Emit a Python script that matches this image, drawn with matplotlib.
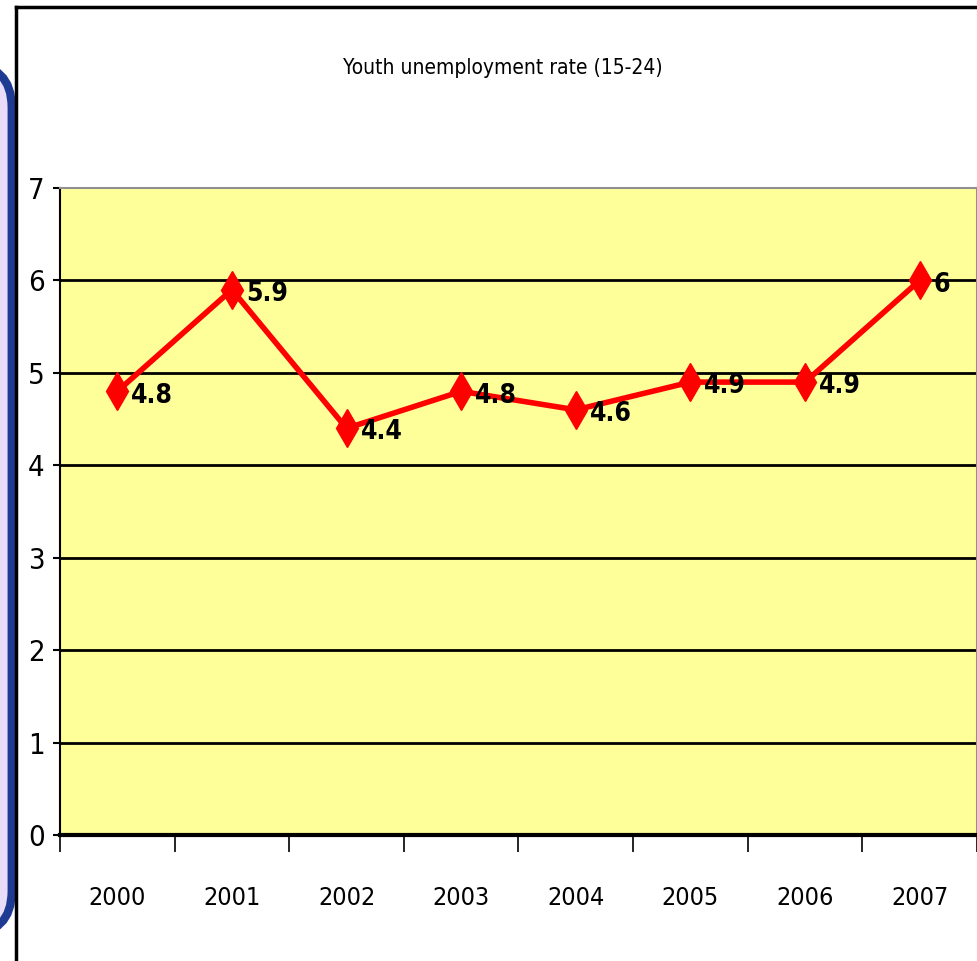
import matplotlib.pyplot as plt
from matplotlib.patches import FancyBboxPatch
from matplotlib.lines import Line2D

plt.rcParams['font.family'] = ['DejaVu Sans']
plt.rcParams['font.stretch'] = 'condensed'

years = ["2000", "2001", "2002", "2003", "2004", "2005", "2006", "2007"]
rates = [4.8, 5.9, 4.4, 4.8, 4.6, 4.9, 4.9, 6.0]
value_labels = ["4.8", "5.9", "4.4", "4.8", "4.6", "4.9", "4.9", "6"]
title = "Youth unemployment rate (15-24)"

fig = plt.figure(figsize=(9.78, 9.61), dpi=100)

# slide decoration: blue rounded box at left, black frame around chart
box = FancyBboxPatch((-0.05, 0.028), 0.062, 0.905, boxstyle="round,pad=0,rounding_size=0.045",
                     transform=fig.transFigure, facecolor="#e8dcf8", edgecolor="#1f3a93",
                     linewidth=6, zorder=0)
fig.patches.append(box)
fig.lines.append(Line2D([16/978, 16/978], [0, 1 - 7/961], transform=fig.transFigure,
                        color="black", lw=2.5))
fig.lines.append(Line2D([16/978, 1], [1 - 7/961, 1 - 7/961], transform=fig.transFigure,
                        color="black", lw=2.5))

ax = fig.add_axes([60/978, 1 - 835/961, 917/978, 647/961])
ax.set_facecolor("#ffff99")

x = list(range(len(years)))
ax.plot(x, rates, color="red", lw=4, marker="d", markersize=19,
        markeredgecolor="red", markerfacecolor="red", zorder=3, clip_on=False)
for xi, yi, lab in zip(x, rates, value_labels):
    ax.annotate(lab, (xi, yi), xytext=(10, -3), textcoords="offset points",
                ha="left", va="center", fontsize=19, fontweight="bold", zorder=4)

ax.set_xlim(-0.5, 7.5)
ax.set_ylim(0, 7)
ax.set_yticks(range(8))
ax.set_yticklabels([str(v) for v in range(8)], fontsize=21)
ax.set_xticks([i - 0.5 for i in range(9)])
ax.set_xticklabels([])
ax.set_xticks(x, minor=True)
ax.set_xticklabels(years, minor=True, fontsize=18)
ax.tick_params(axis="x", which="major", direction="out", length=12, width=1.2)
ax.tick_params(axis="x", which="minor", length=0, pad=37)
ax.tick_params(axis="y", direction="out", length=5, width=1.5, pad=6)

for v in range(1, 7):
    ax.axhline(v, color="black", lw=2, zorder=1)

ax.spines["top"].set_color("#909090")
ax.spines["right"].set_color("#909090")
ax.spines["top"].set_linewidth(1.5)
ax.spines["right"].set_linewidth(1.5)
ax.spines["bottom"].set_linewidth(3)
ax.spines["left"].set_linewidth(1.5)

fig.text(503/978, 1 - 68/961, title, ha="center", va="center", fontsize=15)

fig.savefig("out.png", dpi=100)
